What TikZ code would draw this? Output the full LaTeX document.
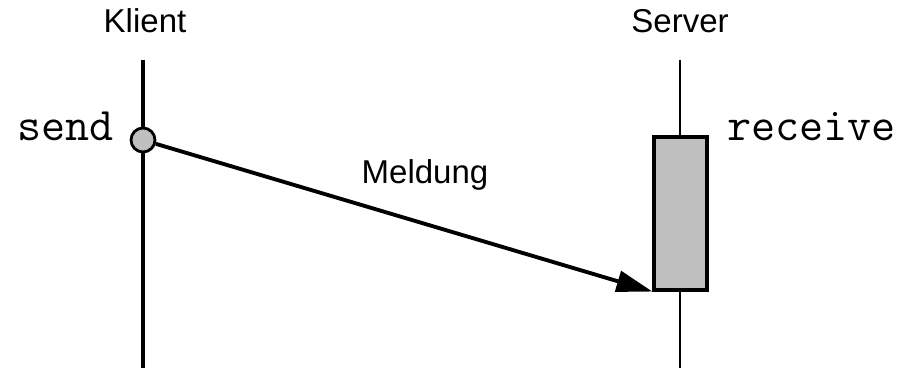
\documentclass[tikz,border=0pt]{standalone}
\usepackage{fontspec}
\setmainfont{Liberation Sans}
\usetikzlibrary{arrows.meta}

\begin{document}
\begin{tikzpicture}[x=0.02cm, y=-0.02cm,
  lbl/.style={font=\fontsize{18.8}{22}\selectfont, inner sep=0pt},
  code/.style={font=\ttfamily\fontsize{26.6}{30}\selectfont, inner sep=0pt},
  msg/.style={-{Triangle[length=0.72cm, width=0.42cm]}, line width=2.2pt}]
  \useasboundingbox (0,0) rectangle (911,368);

  % Lifelines
  \coordinate (kTop) at (143,60);
  \coordinate (kBot) at (143,368);
  \coordinate (sTop) at (680,60);
  \coordinate (sBot) at (680,368);
  \draw[line width=2.5pt] (kTop) -- (kBot);
  \draw[line width=1.5pt] (sTop) -- (sBot);

  % Headings
  \node[lbl, anchor=base] (klient) at (145,33) {Klient};
  \node[lbl, anchor=base] (server) at (680,33) {Server};

  % Send event and receive activation
  \node[circle, draw, line width=1.6pt, fill=gray!50, minimum size=0.48cm, inner sep=0pt] (send) at (143,140) {};
  \node[draw, line width=1.8pt, fill=gray!50, minimum width=1.06cm, minimum height=3.06cm, inner sep=0pt] (recv) at (680.5,213.5) {};

  \node[code, anchor=base east] (sendlbl) at (114,140) {send};
  \node[code, anchor=base west] (recvlbl) at (727,140) {receive};

  % Message
  \draw[msg] (send) -- (recv.south west);
  \node[lbl, anchor=base] (meldung) at (425,183) {Meldung};
\end{tikzpicture}
\end{document}
